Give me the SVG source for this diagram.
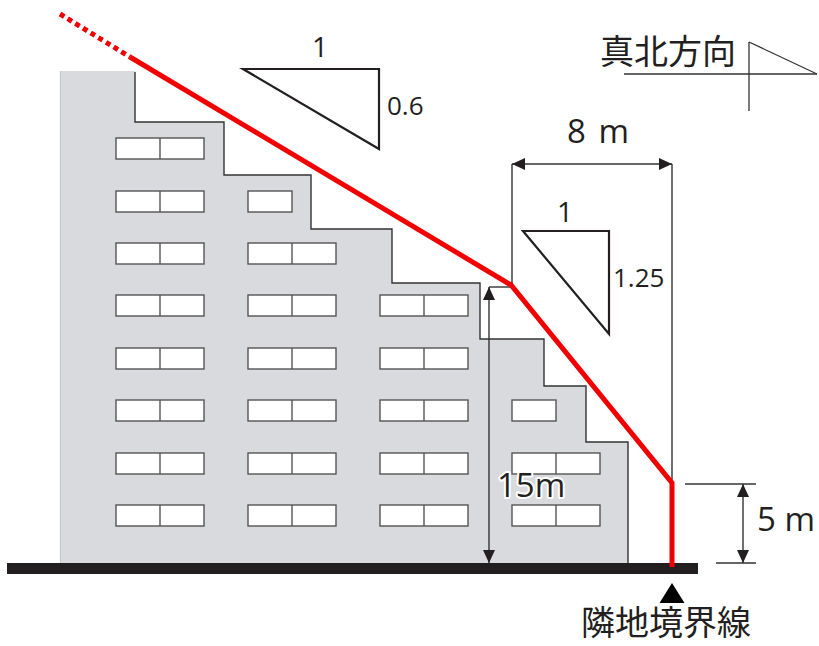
<svg xmlns="http://www.w3.org/2000/svg" width="819" height="646" viewBox="0 0 819 646">
<style>
.win{fill:#fff;stroke:#555;stroke-width:1.4}
.wdiv{stroke:#555;stroke-width:1.4}
.dim{stroke:#333;stroke-width:1.4;fill:none}
.tri{fill:none;stroke:#231f20;stroke-width:2.2}
.num{font-family:"Open Sans","Noto Sans","Liberation Sans",sans-serif;fill:#231f20}
.jp{font-family:"Noto Sans CJK JP","Noto Sans",sans-serif;fill:#231f20}
.red{fill:none;stroke:#f20000;stroke-width:5}
</style>
<defs>
<marker id="arr" viewBox="0 0 13 12" refX="13" refY="6" markerWidth="13" markerHeight="12" orient="auto-start-reverse" markerUnits="userSpaceOnUse">
<path d="M0,0 L13,6 L0,12 z" fill="#231f20"/>
</marker>
</defs>
<rect width="819" height="646" fill="#fff"/>
<g id="building">
<path d="M60,71 L135,71 L135,122 L224,122 L224,175 L311,175 L311,229 L392,229 L392,283 L480,283 L480,339 L544,339 L544,386 L586,386 L586,442 L628,442 L628,563 L60,563 Z" fill="#d9dadd" stroke="none"/>
<path d="M135,72 L135,122 L224,122 L224,175 L311,175 L311,229 L392,229 L392,283 L480,283 L480,339 L544,339 L544,386 L586,386 L586,442 L628,442 L628,563" fill="none" stroke="#333" stroke-width="1.4"/>
<line x1="60.5" y1="71" x2="60.5" y2="563" stroke="#c4c5c8" stroke-width="1.2"/>
</g>
<g id="windows">
<rect class="win" x="116" y="138" width="88" height="21"/><line class="wdiv" x1="160" y1="138" x2="160" y2="159"/>
<rect class="win" x="116" y="191" width="88" height="21"/><line class="wdiv" x1="160" y1="191" x2="160" y2="212"/>
<rect class="win" x="116" y="243" width="88" height="21"/><line class="wdiv" x1="160" y1="243" x2="160" y2="264"/>
<rect class="win" x="116" y="295" width="88" height="21"/><line class="wdiv" x1="160" y1="295" x2="160" y2="316"/>
<rect class="win" x="116" y="348" width="88" height="21"/><line class="wdiv" x1="160" y1="348" x2="160" y2="369"/>
<rect class="win" x="116" y="400" width="88" height="21"/><line class="wdiv" x1="160" y1="400" x2="160" y2="421"/>
<rect class="win" x="116" y="453" width="88" height="21"/><line class="wdiv" x1="160" y1="453" x2="160" y2="474"/>
<rect class="win" x="116" y="505" width="88" height="21"/><line class="wdiv" x1="160" y1="505" x2="160" y2="526"/>
<rect class="win" x="248" y="191" width="44" height="21"/>
<rect class="win" x="248" y="243" width="88" height="21"/><line class="wdiv" x1="292" y1="243" x2="292" y2="264"/>
<rect class="win" x="248" y="295" width="88" height="21"/><line class="wdiv" x1="292" y1="295" x2="292" y2="316"/>
<rect class="win" x="248" y="348" width="88" height="21"/><line class="wdiv" x1="292" y1="348" x2="292" y2="369"/>
<rect class="win" x="248" y="400" width="88" height="21"/><line class="wdiv" x1="292" y1="400" x2="292" y2="421"/>
<rect class="win" x="248" y="453" width="88" height="21"/><line class="wdiv" x1="292" y1="453" x2="292" y2="474"/>
<rect class="win" x="248" y="505" width="88" height="21"/><line class="wdiv" x1="292" y1="505" x2="292" y2="526"/>
<rect class="win" x="380" y="295" width="88" height="21"/><line class="wdiv" x1="424" y1="295" x2="424" y2="316"/>
<rect class="win" x="380" y="348" width="88" height="21"/><line class="wdiv" x1="424" y1="348" x2="424" y2="369"/>
<rect class="win" x="380" y="400" width="88" height="21"/><line class="wdiv" x1="424" y1="400" x2="424" y2="421"/>
<rect class="win" x="380" y="453" width="88" height="21"/><line class="wdiv" x1="424" y1="453" x2="424" y2="474"/>
<rect class="win" x="380" y="505" width="88" height="21"/><line class="wdiv" x1="424" y1="505" x2="424" y2="526"/>
<rect class="win" x="512" y="400" width="44" height="21"/>
<rect class="win" x="512" y="453" width="88" height="21"/><line class="wdiv" x1="556" y1="453" x2="556" y2="474"/>
<rect class="win" x="512" y="505" width="88" height="21"/><line class="wdiv" x1="556" y1="505" x2="556" y2="526"/>
</g>
<g id="ground">
<rect x="7" y="563" width="691" height="11" fill="#231f20"/>
</g>
<g id="connectors">
<line class="dim" x1="512" y1="164" x2="512" y2="287"/>
<line class="dim" x1="672" y1="164" x2="672" y2="484"/>
<line class="dim" x1="512" y1="164" x2="672" y2="164" marker-start="url(#arr)" marker-end="url(#arr)"/>
<line class="dim" x1="489" y1="287" x2="512" y2="287"/>
<line class="dim" x1="489" y1="287" x2="489" y2="563" marker-start="url(#arr)" marker-end="url(#arr)"/>
<line class="dim" x1="685" y1="484" x2="756" y2="484"/>
<line class="dim" x1="716" y1="563" x2="756" y2="563"/>
<line class="dim" x1="743" y1="484" x2="743" y2="563" marker-start="url(#arr)" marker-end="url(#arr)"/>
</g>
<g id="slope-line">
<line class="red" x1="60" y1="14" x2="130" y2="57" stroke-width="4" stroke-dasharray="5,4"/>
<polyline class="red" points="130,57 511,285 672,483 672,567"/>
</g>
<g id="slope-06">
<polygon class="tri" points="243,69 379,69 379,149"/>
<text class="num" x="320" y="57" font-size="28" text-anchor="middle">1</text>
<text class="num" x="387" y="115" font-size="26">0.6</text>
</g>
<g id="slope-125">
<polygon class="tri" points="523,231 609,231 609,334"/>
<text class="num" x="565" y="222" font-size="28" text-anchor="middle">1</text>
<text class="num" x="613" y="287" font-size="26">1.25</text>
</g>
<g id="label-8m">
<text class="num" x="598" y="143" font-size="33" text-anchor="middle" word-spacing="4">8 m</text>
</g>
<g id="label-15m">
<text class="num" x="497" y="497" font-size="33" stroke="#fff" stroke-width="4" paint-order="stroke" stroke-linejoin="round">15m</text>
</g>
<g id="label-5m">
<text class="num" x="757" y="531" font-size="33">5 m</text>
</g>
<g id="north">
<text class="jp" x="600" y="64" font-size="34">真北方向</text>
<line x1="624" y1="74" x2="817" y2="74" stroke="#333" stroke-width="1.3"/>
<line x1="749" y1="42" x2="749" y2="111" stroke="#333" stroke-width="1.3"/>
<line x1="749" y1="42" x2="817" y2="74" stroke="#333" stroke-width="1.3"/>
</g>
<g id="boundary">
<polygon points="672,583 684.5,603 659.5,603" fill="#000"/>
<text class="jp" x="581" y="635" font-size="34">隣地境界線</text>
</g>
</svg>
